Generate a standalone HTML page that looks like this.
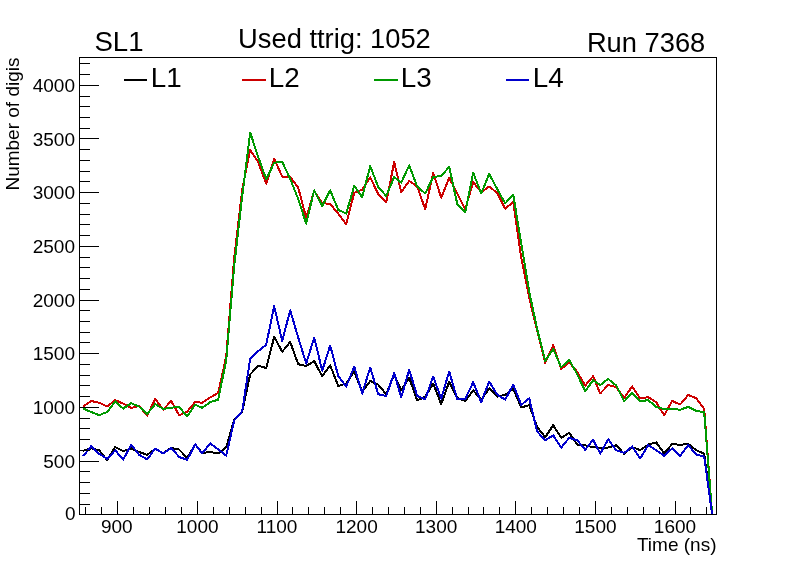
<!DOCTYPE html><html><head><meta charset="utf-8"><title>SL1 time boxes</title>
<style>html,body{margin:0;padding:0;background:#fff}svg{display:block;will-change:transform}text{font-family:"Liberation Sans",sans-serif;fill:#000}</style></head><body>
<svg width="796" height="572" viewBox="0 0 796 572">
<rect width="796" height="572" fill="#fff"/>
<g fill="none" stroke-width="2" stroke-linejoin="round" stroke-linecap="butt" shape-rendering="crispEdges">
<polyline stroke="#000" points="83.20,450.8 91.20,448.3 99.20,450.3 107.20,460.2 115.20,447.0 123.20,451.1 131.20,448.3 139.20,452.1 147.20,454.8 155.20,449.0 163.20,453.0 171.20,447.9 179.20,449.6 187.20,458.0 195.20,444.3 202.20,453.0 210.20,452.0 218.20,453.5 226.20,447.3 234.20,419.6 242.20,411.7 250.20,374.4 258.20,365.8 266.20,368.0 274.20,337.0 282.20,351.7 290.20,342.0 298.20,364.2 306.20,366.1 314.20,361.1 322.20,376.3 330.20,365.3 338.20,386.0 346.20,383.5 354.20,371.5 362.20,391.7 370.20,381.0 378.20,384.7 386.20,394.2 394.20,374.7 401.20,390.4 409.20,377.8 417.20,400.5 425.20,396.7 433.20,383.5 441.20,404.2 449.20,381.6 457.20,397.9 465.20,401.1 473.20,390.4 481.20,399.8 489.20,388.4 497.20,396.6 505.20,394.7 513.20,389.0 521.20,407.4 529.20,405.2 537.20,427.1 545.20,437.2 553.20,425.2 561.20,437.8 569.20,432.8 577.20,444.7 585.20,445.4 593.20,447.3 600.20,447.9 608.20,447.5 616.20,445.3 624.20,453.8 632.20,447.1 640.20,450.2 648.20,444.6 656.20,442.4 664.20,453.4 672.20,443.9 680.20,444.9 688.20,443.9 696.20,450.2 704.20,453.8 712.20,514.8"/>
<polyline stroke="#cc0000" points="83.20,406.3 91.20,401.0 99.20,402.8 107.20,406.4 115.20,400.1 123.20,403.6 131.20,407.9 139.20,406.1 147.20,415.6 155.20,399.0 163.20,409.7 171.20,400.9 179.20,415.4 187.20,411.6 195.20,401.8 202.20,402.8 210.20,397.5 218.20,392.8 226.20,356.5 234.20,258.0 242.20,190.0 250.20,149.8 258.20,162.2 266.20,183.6 274.20,158.8 282.20,176.6 290.20,177.1 298.20,187.5 306.20,218.0 314.20,190.9 322.20,202.9 330.20,204.1 338.20,213.6 346.20,224.3 354.20,192.8 362.20,189.6 370.20,177.4 378.20,194.0 386.20,202.3 394.20,162.0 401.20,192.2 409.20,180.9 417.20,186.5 425.20,209.2 433.20,172.7 441.20,197.6 449.20,177.7 457.20,193.5 465.20,209.2 473.20,182.1 481.20,192.2 489.20,186.5 497.20,193.0 505.20,208.7 513.20,202.1 521.20,257.4 529.20,297.8 537.20,331.0 545.20,362.9 553.20,345.2 561.20,369.2 569.20,362.2 577.20,371.8 585.20,385.6 593.20,376.1 600.20,393.5 608.20,385.0 616.20,387.1 624.20,397.8 632.20,386.4 640.20,398.4 648.20,397.2 656.20,402.3 664.20,415.2 672.20,401.0 680.20,404.5 688.20,395.0 696.20,398.2 704.20,409.1 712.20,514.8"/>
<polyline stroke="#009900" points="83.20,408.6 91.20,412.0 99.20,415.1 107.20,412.0 115.20,401.4 123.20,408.6 131.20,403.2 139.20,406.7 147.20,414.0 155.20,404.1 163.20,408.9 171.20,407.6 179.20,407.2 187.20,416.4 195.20,404.7 202.20,407.9 210.20,402.2 218.20,399.6 226.20,360.4 234.20,266.0 242.20,196.0 250.20,132.6 258.20,157.0 266.20,179.2 274.20,162.8 282.20,161.7 290.20,179.0 298.20,199.0 306.20,223.6 314.20,190.3 322.20,206.0 330.20,190.3 338.20,209.8 346.20,213.6 354.20,185.9 362.20,197.2 370.20,166.2 378.20,186.8 386.20,196.0 394.20,177.1 401.20,182.7 409.20,165.4 417.20,186.5 425.20,193.5 433.20,177.1 441.20,175.8 449.20,167.0 457.20,203.8 465.20,212.3 473.20,172.7 481.20,193.5 489.20,173.9 497.20,189.0 505.20,203.4 513.20,194.5 521.20,242.9 529.20,291.5 537.20,329.2 545.20,361.0 553.20,349.0 561.20,367.3 569.20,359.7 577.20,374.3 585.20,391.2 593.20,380.1 600.20,385.1 608.20,378.9 616.20,385.5 624.20,401.3 632.20,393.0 640.20,401.3 648.20,400.1 656.20,407.0 664.20,409.0 672.20,408.9 680.20,409.8 688.20,406.8 696.20,410.9 704.20,412.3 712.20,514.8"/>
<polyline stroke="#0000cc" points="83.20,456.2 91.20,446.2 99.20,453.8 107.20,458.9 115.20,450.3 123.20,459.6 131.20,444.7 139.20,454.8 147.20,459.4 155.20,448.5 163.20,453.5 171.20,447.9 179.20,457.0 187.20,459.8 195.20,444.3 202.20,453.5 210.20,443.3 218.20,449.4 226.20,455.6 234.20,420.4 242.20,411.3 250.20,358.5 258.20,351.2 266.20,344.7 274.20,306.3 282.20,341.0 290.20,310.3 298.20,337.5 306.20,363.6 314.20,337.5 322.20,370.7 330.20,345.5 338.20,375.9 346.20,386.6 354.20,366.5 362.20,393.6 370.20,367.5 378.20,394.2 386.20,396.1 394.20,372.8 401.20,397.3 409.20,369.8 417.20,396.0 425.20,399.2 433.20,376.5 441.20,398.6 449.20,371.5 457.20,399.2 465.20,399.2 473.20,382.2 481.20,402.2 489.20,381.5 497.20,394.7 505.20,399.7 513.20,384.6 521.20,404.9 529.20,398.3 537.20,431.5 545.20,440.3 553.20,435.3 561.20,447.6 569.20,437.8 577.20,440.3 585.20,449.8 593.20,439.7 600.20,453.6 608.20,439.3 616.20,450.3 624.20,453.0 632.20,446.4 640.20,458.4 648.20,445.2 656.20,450.2 664.20,455.9 672.20,448.3 680.20,455.9 688.20,445.2 696.20,454.6 704.20,456.5 712.20,514.8"/>
</g>
<g fill="#000" shape-rendering="crispEdges">
<rect x="79" y="57" width="638" height="1"/>
<rect x="79" y="514" width="638" height="1"/>
<rect x="79" y="57" width="1" height="458"/>
<rect x="716" y="57" width="1" height="458"/>
<rect x="79" y="514" width="20" height="1"/>
<rect x="79" y="504" width="11" height="1"/>
<rect x="79" y="493" width="11" height="1"/>
<rect x="79" y="482" width="11" height="1"/>
<rect x="79" y="471" width="11" height="1"/>
<rect x="79" y="461" width="20" height="1"/>
<rect x="79" y="450" width="11" height="1"/>
<rect x="79" y="439" width="11" height="1"/>
<rect x="79" y="428" width="11" height="1"/>
<rect x="79" y="418" width="11" height="1"/>
<rect x="79" y="407" width="20" height="1"/>
<rect x="79" y="396" width="11" height="1"/>
<rect x="79" y="385" width="11" height="1"/>
<rect x="79" y="375" width="11" height="1"/>
<rect x="79" y="364" width="11" height="1"/>
<rect x="79" y="353" width="20" height="1"/>
<rect x="79" y="342" width="11" height="1"/>
<rect x="79" y="332" width="11" height="1"/>
<rect x="79" y="321" width="11" height="1"/>
<rect x="79" y="310" width="11" height="1"/>
<rect x="79" y="300" width="20" height="1"/>
<rect x="79" y="289" width="11" height="1"/>
<rect x="79" y="278" width="11" height="1"/>
<rect x="79" y="267" width="11" height="1"/>
<rect x="79" y="257" width="11" height="1"/>
<rect x="79" y="246" width="20" height="1"/>
<rect x="79" y="235" width="11" height="1"/>
<rect x="79" y="224" width="11" height="1"/>
<rect x="79" y="214" width="11" height="1"/>
<rect x="79" y="203" width="11" height="1"/>
<rect x="79" y="192" width="20" height="1"/>
<rect x="79" y="181" width="11" height="1"/>
<rect x="79" y="171" width="11" height="1"/>
<rect x="79" y="160" width="11" height="1"/>
<rect x="79" y="149" width="11" height="1"/>
<rect x="79" y="138" width="20" height="1"/>
<rect x="79" y="128" width="11" height="1"/>
<rect x="79" y="117" width="11" height="1"/>
<rect x="79" y="106" width="11" height="1"/>
<rect x="79" y="96" width="11" height="1"/>
<rect x="79" y="85" width="20" height="1"/>
<rect x="79" y="74" width="11" height="1"/>
<rect x="79" y="63" width="11" height="1"/>
<rect x="85" y="507" width="1" height="8"/>
<rect x="101" y="507" width="1" height="8"/>
<rect x="117" y="501" width="1" height="14"/>
<rect x="133" y="507" width="1" height="8"/>
<rect x="149" y="507" width="1" height="8"/>
<rect x="165" y="507" width="1" height="8"/>
<rect x="181" y="507" width="1" height="8"/>
<rect x="197" y="501" width="1" height="14"/>
<rect x="213" y="507" width="1" height="8"/>
<rect x="229" y="507" width="1" height="8"/>
<rect x="245" y="507" width="1" height="8"/>
<rect x="261" y="507" width="1" height="8"/>
<rect x="277" y="501" width="1" height="14"/>
<rect x="292" y="507" width="1" height="8"/>
<rect x="308" y="507" width="1" height="8"/>
<rect x="324" y="507" width="1" height="8"/>
<rect x="340" y="507" width="1" height="8"/>
<rect x="356" y="501" width="1" height="14"/>
<rect x="372" y="507" width="1" height="8"/>
<rect x="388" y="507" width="1" height="8"/>
<rect x="404" y="507" width="1" height="8"/>
<rect x="420" y="507" width="1" height="8"/>
<rect x="436" y="501" width="1" height="14"/>
<rect x="452" y="507" width="1" height="8"/>
<rect x="468" y="507" width="1" height="8"/>
<rect x="483" y="507" width="1" height="8"/>
<rect x="499" y="507" width="1" height="8"/>
<rect x="515" y="501" width="1" height="14"/>
<rect x="531" y="507" width="1" height="8"/>
<rect x="547" y="507" width="1" height="8"/>
<rect x="563" y="507" width="1" height="8"/>
<rect x="579" y="507" width="1" height="8"/>
<rect x="595" y="501" width="1" height="14"/>
<rect x="611" y="507" width="1" height="8"/>
<rect x="627" y="507" width="1" height="8"/>
<rect x="643" y="507" width="1" height="8"/>
<rect x="659" y="507" width="1" height="8"/>
<rect x="675" y="501" width="1" height="14"/>
<rect x="690" y="507" width="1" height="8"/>
<rect x="706" y="507" width="1" height="8"/>
</g>
<text x="75.5" y="520.2" font-size="19" text-anchor="end">0</text>
<text x="75" y="467.8" font-size="19" text-anchor="end">500</text>
<text x="75" y="414.1" font-size="19" text-anchor="end">1000</text>
<text x="75" y="360.4" font-size="19" text-anchor="end">1500</text>
<text x="75" y="306.7" font-size="19" text-anchor="end">2000</text>
<text x="75" y="253.1" font-size="19" text-anchor="end">2500</text>
<text x="75" y="199.4" font-size="19" text-anchor="end">3000</text>
<text x="75" y="145.7" font-size="19" text-anchor="end">3500</text>
<text x="75" y="92.0" font-size="19" text-anchor="end">4000</text>
<text x="116.8" y="532.8" font-size="19" text-anchor="middle">900</text>
<text x="197.4" y="532.8" font-size="19" text-anchor="middle">1000</text>
<text x="277.0" y="532.8" font-size="19" text-anchor="middle">1100</text>
<text x="356.6" y="532.8" font-size="19" text-anchor="middle">1200</text>
<text x="436.2" y="532.8" font-size="19" text-anchor="middle">1300</text>
<text x="515.8" y="532.8" font-size="19" text-anchor="middle">1400</text>
<text x="595.4" y="532.8" font-size="19" text-anchor="middle">1500</text>
<text x="675.0" y="532.8" font-size="19" text-anchor="middle">1600</text>
<text x="716.5" y="551.2" font-size="19" text-anchor="end">Time (ns)</text>
<text transform="translate(19.4,57.5) rotate(-90)" font-size="19" text-anchor="end">Number of digis</text>
<text x="94.4" y="51.1" font-size="27.6">SL1</text>
<text x="238.1" y="47.8" font-size="27.3">Used ttrig: 1052</text>
<text x="586.9" y="51.9" font-size="27.3">Run 7368</text>
<g shape-rendering="crispEdges">
<rect x="124" y="79" width="23" height="2" fill="#000"/>
<rect x="242" y="79" width="24" height="2" fill="#cc0000"/>
<rect x="374" y="79" width="24" height="2" fill="#009900"/>
<rect x="506" y="79" width="23" height="2" fill="#0000cc"/>
</g>
<text x="150.7" y="86.9" font-size="27.8">L1</text>
<text x="268.7" y="86.9" font-size="27.8">L2</text>
<text x="400.7" y="86.9" font-size="27.8">L3</text>
<text x="532.7" y="86.9" font-size="27.8">L4</text>
</svg></body></html>
